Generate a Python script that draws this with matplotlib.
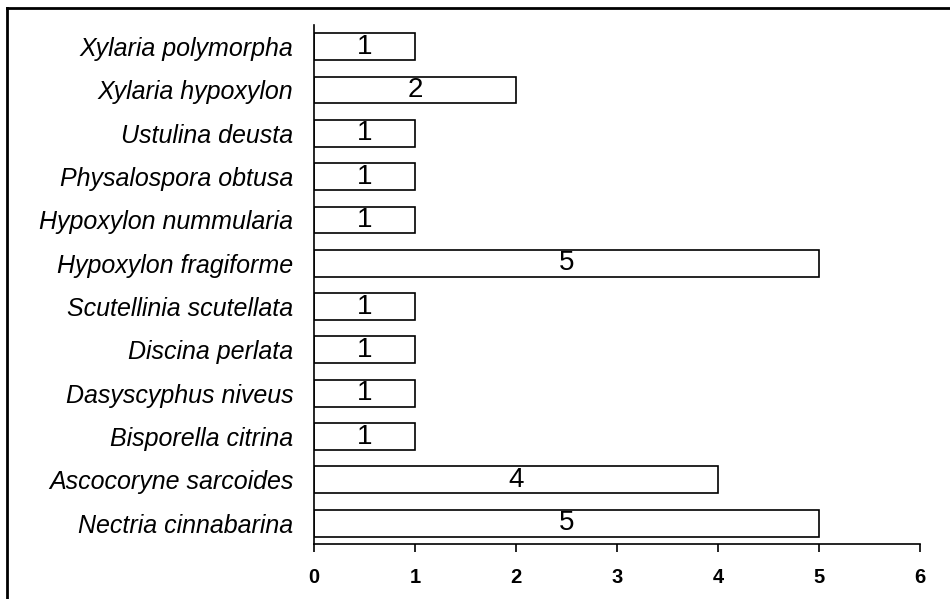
import matplotlib
matplotlib.use('Agg')
import matplotlib.pyplot as plt
from matplotlib.lines import Line2D

# species listed bottom -> top
species = [
    'Nectria cinnabarina', 'Ascocoryne sarcoides', 'Bisporella citrina',
    'Dasyscyphus niveus', 'Discina perlata', 'Scutellinia scutellata',
    'Hypoxylon fragiforme', 'Hypoxylon nummularia', 'Physalospora obtusa',
    'Ustulina deusta', 'Xylaria hypoxylon', 'Xylaria polymorpha',
]
counts = [5, 4, 1, 1, 1, 1, 5, 1, 1, 1, 2, 1]
xticks = [0, 1, 2, 3, 4, 5, 6]

plt.rcParams['font.family'] = ['Liberation Sans', 'DejaVu Sans']

fig = plt.figure(figsize=(9.5, 5.99), dpi=100)
ax = fig.add_axes([314 / 950, 1 - 544 / 599, 606 / 950, 519 / 599])

ypos = list(range(len(species)))
ax.barh(ypos, counts, height=0.62, color='white', edgecolor='black', linewidth=1.2)

for y, v in zip(ypos, counts):
    ax.text(v / 2, y, str(v), ha='center', va='center', fontsize=20, color='black')

ax.set_xlim(0, 6)
ax.set_ylim(-0.48, 11.5)
ax.set_xticks(xticks)
ax.set_xticklabels([str(t) for t in xticks], fontweight='bold', fontsize=14.5)
ax.set_yticks(ypos)
ax.set_yticklabels(species, fontstyle='italic', fontsize=18)

ax.tick_params(axis='y', length=0, pad=15)
ax.tick_params(axis='x', direction='out', length=6, width=1.2, pad=11)
ax.spines['top'].set_visible(False)
ax.spines['right'].set_visible(False)
ax.spines['left'].set_linewidth(1.2)
ax.spines['bottom'].set_linewidth(1.2)

# frame around the figure (left + top visible in the original)
fig.add_artist(Line2D([7 / 950, 7 / 950], [0, 1 - 8 / 599], transform=fig.transFigure,
                      color='black', linewidth=2))
fig.add_artist(Line2D([7 / 950, 1], [1 - 8 / 599, 1 - 8 / 599], transform=fig.transFigure,
                      color='black', linewidth=2))

fig.savefig('out.png', dpi=100)
